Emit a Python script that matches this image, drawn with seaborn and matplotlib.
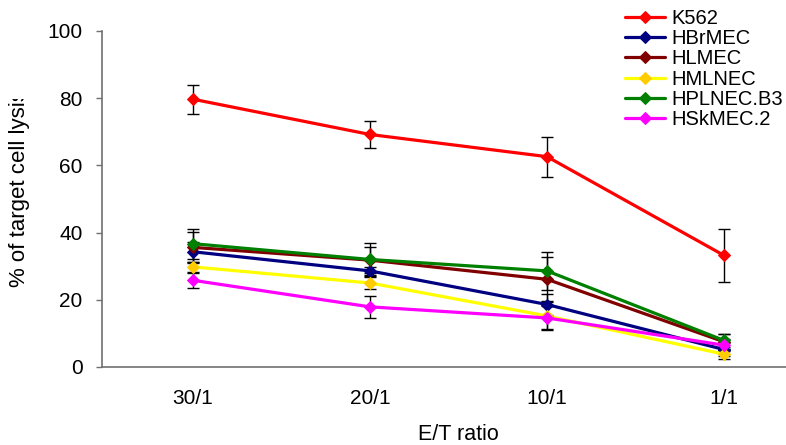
import numpy as np
import pandas as pd
import matplotlib
matplotlib.use("Agg")
import matplotlib.pyplot as plt
from matplotlib.transforms import Bbox, TransformedBbox
import seaborn as sns

# E/T ratios on the x axis
ratios = ["30/1", "20/1", "10/1", "1/1"]

# Mean % target cell lysis per cell line
k562 = [79.7, 69.2, 62.6, 33.2]
hbrmec = [34.3, 28.6, 18.6, 5.2]
hlmec = [35.6, 31.8, 26.1, 7.5]
hmlnec = [29.8, 25.0, 15.2, 3.8]
hplnec_b3 = [36.7, 32.0, 28.6, 7.9]
hskmec_2 = [25.8, 17.9, 14.6, 6.5]

# Standard deviations
k562_sd = [4.3, 4.0, 6.0, 8.0]
hbrmec_sd = [3.0, 1.2, 3.0, 2.0]
hlmec_sd = [4.5, 3.8, 6.5, 2.2]
hmlnec_sd = [1.5, 1.7, 4.0, 1.5]
hplnec_b3_sd = [4.5, 4.8, 5.6, 1.8]
hskmec_2_sd = [2.3, 3.2, 3.6, 1.8]

series_names = ["K562", "HBrMEC", "HLMEC", "HMLNEC", "HPLNEC.B3", "HSkMEC.2"]
series_vals = [k562, hbrmec, hlmec, hmlnec, hplnec_b3, hskmec_2]
series_sd = [k562_sd, hbrmec_sd, hlmec_sd, hmlnec_sd, hplnec_b3_sd, hskmec_2_sd]
line_colors = ["#FF0000", "#000080", "#800000", "#FFFF00", "#008000", "#FF00FF"]
marker_colors = ["#FF0000", "#000080", "#800000", "#FFCC00", "#008000", "#FF00FF"]

df = pd.DataFrame({
    "ratio": ratios * len(series_names),
    "lysis": np.concatenate(series_vals),
    "sd": np.concatenate(series_sd),
    "line": np.repeat(series_names, len(ratios)),
})

sns.set_style("white")
plt.rcParams["font.family"] = ["Liberation Sans", "DejaVu Sans"]
plt.rcParams["text.color"] = "black"
plt.rcParams["xtick.color"] = "black"
plt.rcParams["ytick.color"] = "black"

W, H = 786, 445
fig = plt.figure(figsize=(W / 100, H / 100), dpi=100)
ax = fig.add_axes([102 / W, 1 - 367 / H, 684 / W, 336 / H])

palette = dict(zip(series_names, line_colors))
sns.lineplot(data=df, x="ratio", y="lysis", hue="line", hue_order=series_names,
             palette=palette, sort=False, marker="D", markersize=6.5,
             linewidth=2.3, legend=False, ax=ax, zorder=3)

lines = ax.get_lines()[:len(series_names)]
for ln, mc in zip(lines, marker_colors):
    ln.set_markerfacecolor(mc)
    ln.set_markeredgecolor(mc)

# Error bars behind the markers
for name in series_names:
    sub = df[df["line"] == name]
    ax.errorbar(sub["ratio"], sub["lysis"], yerr=sub["sd"], fmt="none",
                ecolor="black", elinewidth=1, capsize=4.5, capthick=1,
                zorder=2)

ax.set_ylim(0, 100)
ax.set_xlim(-0.514, 3.35)
ax.set_yticks([0, 20, 40, 60, 80, 100])

for side in ["top", "right"]:
    ax.spines[side].set_visible(False)
for side in ["left", "bottom"]:
    ax.spines[side].set_color("#707070")
    ax.spines[side].set_linewidth(1.2)

ax.tick_params(axis="y", direction="out", length=4.5, width=1, color="#707070",
               labelcolor="black", pad=9.5, labelsize=15, left=True)
ax.tick_params(axis="x", length=0, pad=16, labelsize=15, labelcolor="black")
ax.set_ylabel("")
ax.set_xlabel("")

fig.text(458 / W, 1 - 434 / H, "E/T ratio", ha="center", va="center",
         fontsize=15.5, color="black")

# Y axis title, cut off at the top edge of the plotting frame
ylab = fig.text(20 / W, 1 - 287 / H, "% of target cell lysis", rotation=90,
                ha="center", va="bottom", fontsize=16, color="black")
ylab.set_clip_box(TransformedBbox(Bbox([[0, 0], [1, 1 - 99 / H]]), fig.transFigure))
ylab.set_clip_on(True)

leg = ax.legend(lines, series_names, loc="upper left",
                bbox_to_anchor=(625 / W, 1 - 9 / H),
                bbox_transform=fig.transFigure, frameon=False,
                fontsize=14.5, handlelength=2.0, handletextpad=0.3,
                labelspacing=0.06, borderpad=0, borderaxespad=0)
for t in leg.get_texts():
    t.set_color("black")

fig.savefig("out.png", dpi=100)
